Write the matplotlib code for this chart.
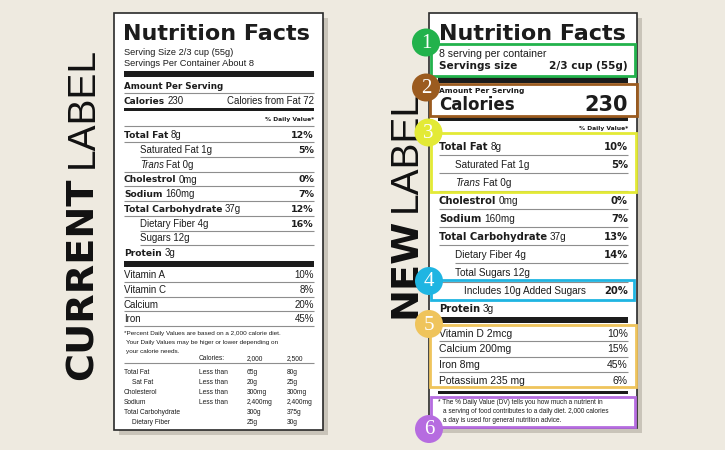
import matplotlib
matplotlib.use("Agg")
import matplotlib.pyplot as plt
from matplotlib.patches import Rectangle, Circle

W, H = 725, 450
BG = "#eeeae0"
INK = "#1c1c1c"
RULE = "#8e8e8e"
SHADOW = "#c9c4b9"
BOLD = "DejaVu Sans"
REG = "Liberation Sans"
SERIF = "Liberation Serif"

# --- current label ---------------------------------------------------------
cur_serving = ["Serving Size 2/3 cup (55g)", "Servings Per Container About 8"]
cur_calories = "230"
cur_fat_calories = "Calories from Fat 72"
cur_nutrients = ["Total Fat", "Saturated Fat", "Trans Fat", "Cholestrol", "Sodium",
                 "Total Carbohydrate", "Dietary Fiber", "Sugars", "Protein"]
cur_amounts = ["8g", "1g", "0g", "0mg", "160mg", "37g", "4g", "12g", "3g"]
cur_dv = ["12%", "5%", "", "0%", "7%", "12%", "16%", "", ""]
cur_vitamins = ["Vitamin A", "Vitamin C", "Calcium", "Iron"]
cur_vit_dv = ["10%", "8%", "20%", "45%"]
cur_note = ["*Percent Daily Values are based on a 2,000 calorie diet.",
            "Your Daily Values may be higer or lower depending on",
            "your calorie needs."]
fn_header = ["Calories:", "2,000", "2,500"]
fn_nutrients = ["Total Fat", "Sat Fat", "Cholesterol", "Sodium",
                "Total Carbohydrate", "Dietary Fiber"]
fn_limit = ["Less than", "Less than", "Less than", "Less than", "", ""]
fn_2000 = ["65g", "20g", "300mg", "2,400mg", "300g", "25g"]
fn_2500 = ["80g", "25g", "300mg", "2,400mg", "375g", "30g"]

# --- new label -------------------------------------------------------------
new_servings = "8 serving per container"
new_size = ["Servings size", "2/3 cup (55g)"]
new_calories = "230"
new_nutrients = ["Total Fat", "Saturated Fat", "Trans Fat", "Cholestrol", "Sodium",
                 "Total Carbohydrate", "Dietary Fiber", "Total Sugars",
                 "Includes 10g Added Sugars", "Protein"]
new_amounts = ["8g", "1g", "0g", "0mg", "160mg", "37g", "4g", "12g", "", "3g"]
new_dv = ["10%", "5%", "", "0%", "7%", "13%", "14%", "", "20%", ""]
new_minerals = ["Vitamin D 2mcg", "Calcium 200mg", "Iron 8mg", "Potassium 235 mg"]
new_min_dv = ["10%", "15%", "45%", "6%"]
new_note = ["* The % Daily Value (DV) tells you how much a nutrient in",
            "a serving of food contributes to a daily diet. 2,000 calories",
            "a day is used for general nutrition advice."]

callout_nums = ["1", "2", "3", "4", "5", "6"]
callout_colors = ["#22b24c", "#9b5b1f", "#e3ea36", "#1fb5e2", "#efc45c", "#b66ce0"]

SUB = {"Saturated Fat", "Trans Fat", "Dietary Fiber", "Sugars", "Total Sugars"}
SUB2 = {"Includes 10g Added Sugars"}

fig = plt.figure(figsize=(W / 100, H / 100), dpi=100, facecolor=BG)
ax = fig.add_axes([0, 0, 1, 1])
ax.set_xlim(0, W)
ax.set_ylim(H, 0)
ax.axis("off")
ax.set_facecolor(BG)
renderer = fig.canvas.get_renderer()


def put(x, y, s, size, weight="normal", style="normal", ha="left",
        family=REG, color=INK, z=5):
    base = y + 0.36 * size * 100 / 72
    return ax.text(x, base, s, fontsize=size, fontweight=weight, fontstyle=style,
                   family=family, ha=ha, va="baseline", color=color, zorder=z)


def chain(x, y, parts, size, rsize=None):
    # parts: (texte, gras?, italique?)
    for s, bold, ital in parts:
        t = put(x, y, s, size if bold else (rsize or size),
                weight="bold" if bold else "normal",
                style="italic" if ital else "normal",
                family=BOLD if bold else REG)
        x += t.get_window_extent(renderer).width + 0.27 * size * 100 / 72


def rule(x0, x1, y, lw=0.8, color=RULE):
    ax.plot([x0, x1], [y, y], color=color, lw=lw, solid_capstyle="butt", zorder=3)


def bar(x0, x1, y0, y1):
    ax.add_patch(Rectangle((x0, y0), x1 - x0, y1 - y0, facecolor=INK,
                           edgecolor="none", zorder=3))


def frame(x0, y0, x1, y1):
    ax.add_patch(Rectangle((x0 + 5, y0 + 5), x1 - x0, y1 - y0,
                           facecolor=SHADOW, edgecolor="none", zorder=1))
    ax.add_patch(Rectangle((x0, y0), x1 - x0, y1 - y0, facecolor="white",
                           edgecolor="#2a2a2a", lw=1.2, zorder=2))


def row_parts(name, amount):
    if name == "Trans Fat":
        return [("Trans", False, True), ("Fat " + amount, False, False)]
    if name in SUB or name in SUB2:
        return [((name + " " + amount).strip(), False, False)]
    return [(name, True, False), (amount, False, False)]


# ==========================================================================
# Etiquette actuelle
# ==========================================================================
L0, L1 = 124, 314
frame(114, 13, 323, 430)
put(L0 - 1, 32, "Nutrition Facts", 16, weight="bold", family=BOLD)
put(L0, 52, cur_serving[0], 6.7)
put(L0, 63, cur_serving[1], 6.7)
bar(L0, L1, 71, 77)
put(L0, 86, "Amount Per Serving", 6.3, weight="bold", family=BOLD)
rule(L0, L1, 93)
chain(L0, 101, [("Calories", True, False), (cur_calories, False, False)], 6.5, 7.0)
put(L1, 101, cur_fat_calories, 6.9, ha="right")
bar(L0, L1, 108, 110.5)
put(L1, 119, "% Daily Value*", 4.3, weight="bold", family=BOLD, ha="right")
rule(L0, L1, 126)

for i, (name, amt, dv) in enumerate(zip(cur_nutrients, cur_amounts, cur_dv)):
    y = 135 + 14.7 * i
    x = L0 + (16 if name in SUB else 0)
    chain(x, y, row_parts(name, amt), 6.6, 6.9)
    if dv:
        put(L1, y, dv, 6.8, weight="bold", family=BOLD, ha="right")
    if i < len(cur_nutrients) - 1:
        indented = name in SUB and name != "Trans Fat"
        rule(L0 + (16 if indented else 0), L1, y + 7.3)
bar(L0, L1, 261, 267)

for i, (name, dv) in enumerate(zip(cur_vitamins, cur_vit_dv)):
    y = 275 + 14.5 * i
    put(L0, y, name, 7.0)
    put(L1, y, dv, 7.0, ha="right")
    rule(L0, L1, y + 7.3)

put(L0, 333, cur_note[0], 4.6)
put(L0 + 2, 342, cur_note[1], 4.6)
put(L0 + 2, 351, cur_note[2], 4.6)
put(199, 358, fn_header[0], 4.8)
put(247, 358, fn_header[1], 4.8)
put(287, 358, fn_header[2], 4.8)
rule(L0, L1, 363)
for i, name in enumerate(fn_nutrients):
    y = 372 + 10 * i
    put(L0 + (8 if name in ("Sat Fat", "Dietary Fiber") else 0), y, name, 4.8)
    put(199, y, fn_limit[i], 4.8)
    put(247, y, fn_2000[i], 4.8)
    put(287, y, fn_2500[i], 4.8)

# ==========================================================================
# Nouvelle etiquette
# ==========================================================================
R0, R1 = 439, 628
frame(429, 13, 637, 428)
put(R0, 32, "Nutrition Facts", 16, weight="bold", family=BOLD)
put(R0, 53, new_servings, 7.6)
put(R0, 65, new_size[0], 7.6, weight="bold", family=BOLD)
put(R1, 65, new_size[1], 7.6, weight="bold", family=BOLD, ha="right")
bar(R0 - 1, R1, 77, 83)
put(R0, 90, "Amount Per Serving", 5.4, weight="bold", family=BOLD)
put(R0, 104, "Calories", 12, weight="bold", family=BOLD)
put(R1, 103.5, new_calories, 15, weight="bold", family=BOLD, ha="right")
bar(R0 - 1, R1, 117, 121)
put(R1, 128, "% Daily Value*", 4.3, weight="bold", family=BOLD, ha="right")

for i, (name, amt, dv) in enumerate(zip(new_nutrients, new_amounts, new_dv)):
    y = 146 + 18.1 * i
    x = R0 + (16 if name in SUB else 25 if name in SUB2 else 0)
    chain(x, y, row_parts(name, amt), 7.2)
    if dv:
        put(R1, y, dv, 7.2, weight="bold", family=BOLD, ha="right")
    if i < len(new_nutrients) - 1:
        rule(R0 + (16 if name in ("Dietary Fiber",) else 0), R1, y + 8.8)
bar(R0 - 1, R1, 317, 323)

for i, (name, dv) in enumerate(zip(new_minerals, new_min_dv)):
    y = 333 + 15.7 * i
    put(R0, y, name, 7.5)
    put(R1, y, dv, 7.5, ha="right")
    if i < len(new_minerals) - 1:
        rule(R0, R1, y + 7.8)
bar(R0 - 1, R1, 391, 394)

put(R0 - 1, 402, new_note[0], 4.7)
put(R0 + 4, 411, new_note[1], 4.7)
put(R0 + 4, 419.5, new_note[2], 4.7)

# cadres de couleur et pastilles numerotees
boxes = [(431, 44, 635, 76), (430, 84, 637, 116), (431, 133, 636, 192),
         (431, 280, 634, 300), (430, 325, 636, 387), (431, 397, 635, 427)]
dots = [(426, 42.5), (426, 87.5), (428.5, 132.5), (429, 281), (429, 324), (429, 429)]
for (x0, y0, x1, y1), (cx, cy), num, col in zip(boxes, dots, callout_nums, callout_colors):
    ax.add_patch(Rectangle((x0, y0), x1 - x0, y1 - y0, facecolor="none",
                           edgecolor=col, lw=2.0, zorder=6))
    ax.add_patch(Circle((cx, cy), 14, facecolor=col, edgecolor="none", zorder=8))
    ax.text(cx, cy + 1, num, fontsize=15, family=SERIF, color="white",
            ha="center", va="center", zorder=9)

# titres verticaux
for x, y0, y1, bold_word in [(93, 380, 168, "CURRENT"), (416, 318, 212, "NEW")]:
    ax.text(x, y0, bold_word, rotation=90, rotation_mode="anchor", ha="left",
            va="baseline", fontsize=27.5, fontweight="bold", family=BOLD,
            color="#111111", zorder=4)
    ax.text(x, y1, "LABEL", rotation=90, rotation_mode="anchor", ha="left",
            va="baseline", fontsize=28, fontweight="normal", family=REG,
            color="#111111", zorder=4)

fig.savefig("out.png", dpi=100, facecolor=BG)
